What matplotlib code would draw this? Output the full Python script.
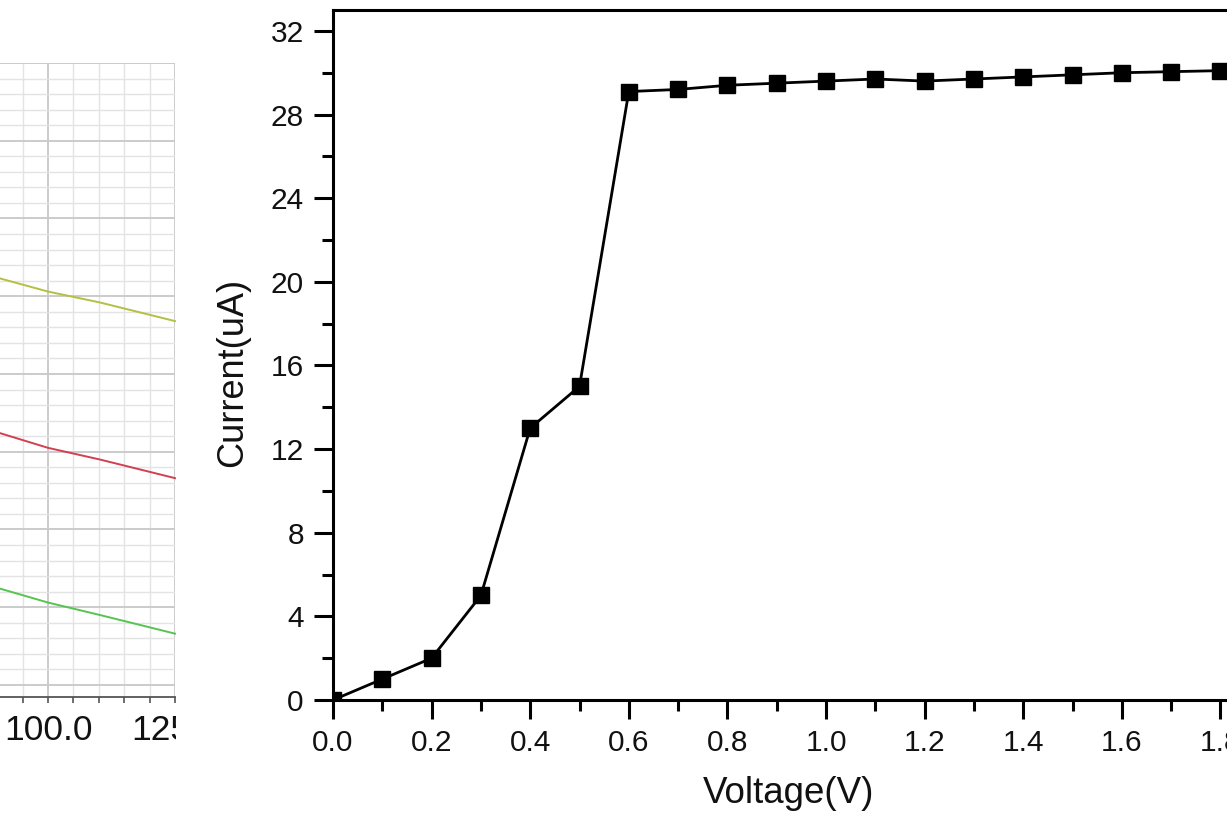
import matplotlib
matplotlib.use("Agg")
import matplotlib.pyplot as plt
from matplotlib.patches import Rectangle
from matplotlib.ticker import MultipleLocator, FormatStrFormatter

plt.rcParams["font.family"] = ["Liberation Sans", "DejaVu Sans"]

# ---- data: left (cropped) panel ----
left_x = [90.5, 100.0, 110.2, 120.7, 125.0]
left_yellow = [5.23, 5.06, 4.92, 4.75, 4.68]
left_red = [3.24, 3.05, 2.90, 2.73, 2.66]
left_green = [1.24, 1.06, 0.90, 0.73, 0.66]

# ---- data: right I-V panel ----
voltage = [0.0, 0.1, 0.2, 0.3, 0.4, 0.5, 0.6, 0.7, 0.8, 0.9,
           1.0, 1.1, 1.2, 1.3, 1.4, 1.5, 1.6, 1.7, 1.8]
current = [0.0, 1.0, 2.0, 5.0, 13.0, 15.0, 29.1, 29.2, 29.4, 29.5,
           29.6, 29.7, 29.6, 29.7, 29.8, 29.9, 30.0, 30.05, 30.1]

W, H = 1227, 823
fig = plt.figure(figsize=(W / 100, H / 100), dpi=100)
fig.patch.set_facecolor("white")

# ---------------- left panel ----------------
axL = fig.add_axes([0, (H - 697) / H, 175 / W, (697 - 63) / H])
axL.set_xlim(90.55, 125.0)
axL.set_ylim(-0.155, 8.0)
axL.xaxis.set_major_locator(MultipleLocator(25))
axL.xaxis.set_minor_locator(MultipleLocator(5))
axL.yaxis.set_major_locator(MultipleLocator(1))
axL.yaxis.set_minor_locator(MultipleLocator(0.2))
axL.xaxis.set_major_formatter(FormatStrFormatter("%.1f"))
axL.grid(which="major", color="#cbcbcb", lw=1.4)
axL.grid(which="minor", color="#e3e3e3", lw=1.0)
axL.set_axisbelow(True)
for s in ["left", "top", "right"]:
    axL.spines[s].set_visible(False)
axL.spines["bottom"].set_color("#555555")
axL.spines["bottom"].set_linewidth(1.3)
axL.tick_params(axis="y", which="both", left=False, labelleft=False)
axL.tick_params(axis="x", which="both", direction="out", length=4, width=1.2,
                color="#555555", labelsize=25.5, pad=8, labelcolor="#111111")
axL.plot(left_x, left_yellow, color="#b3c043", lw=1.4, clip_on=False)
axL.plot(left_x, left_red, color="#d2404f", lw=1.4, clip_on=False)
axL.plot(left_x, left_green, color="#55c450", lw=1.4, clip_on=False)

# white strip cropping the left panel
fig.add_artist(Rectangle((175.5 / W, 0), (330 - 175.5) / W, 1, transform=fig.transFigure,
                         facecolor="white", edgecolor="none", zorder=0.5))

# ---------------- right panel ----------------
xmax = 1.85
axR = fig.add_axes([333 / W, (H - 700) / H, xmax * 493 / W, 690 / H])
axR.set_zorder(1)
axR.set_xlim(0, xmax)
axR.set_ylim(0, 33)
axR.xaxis.set_major_locator(MultipleLocator(0.2))
axR.xaxis.set_minor_locator(MultipleLocator(0.1))
axR.yaxis.set_major_locator(MultipleLocator(4))
axR.yaxis.set_minor_locator(MultipleLocator(2))
axR.xaxis.set_major_formatter(FormatStrFormatter("%.1f"))
for s in axR.spines.values():
    s.set_linewidth(2.2)
    s.set_color("black")
axR.tick_params(which="major", direction="out", length=14, width=2.2,
                labelsize=21.5, pad=7, labelcolor="#111111")
axR.tick_params(axis="x", which="minor", direction="out", length=8, width=2.2)
axR.tick_params(axis="y", which="minor", direction="out", length=8, width=2.2)
axR.tick_params(top=False, right=False, which="both")

axR.plot(voltage, current, color="black", lw=2.0, marker="s", markersize=11.5,
         markerfacecolor="black", markeredgecolor="black")

axR.set_xlabel("Voltage(V)", fontsize=26.5, color="#111111")
axR.set_ylabel("Current(uA)", fontsize=26, color="#111111")
axR.xaxis.set_label_coords(0.5, -0.11)
axR.yaxis.set_label_coords(-0.091, 0.475)

fig.savefig("out.png", dpi=100)
